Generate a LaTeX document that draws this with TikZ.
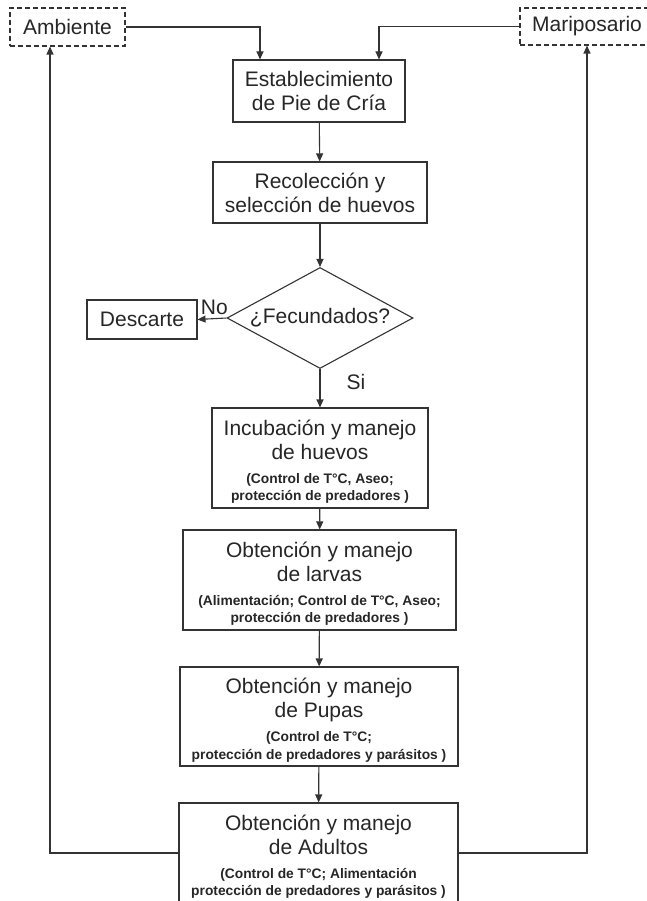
\documentclass[tikz,border=0pt]{standalone}
\usepackage{fontspec}
\setmainfont{Liberation Sans}
\usetikzlibrary{shapes.geometric,arrows.meta}
% bold detail lines under a step
\newcommand\detalle[1]{{\fontsize{13.8}{17.5}\selectfont\bfseries
  \raisebox{0pt}[\height][\dimexpr\depth-10pt\relax]{\begin{tabular}[t]{@{}c@{}}#1\end{tabular}}}}
\tikzset{
  caja/.style={draw=black!80, line width=1.1pt, fill=white, align=center, inner sep=2pt,
    text=black!85, font=\fontsize{21}{24}\selectfont},
  borde/.style={caja, dash pattern=on 5pt off 3pt},
  decision/.style={caja, shape=diamond, aspect=1.84, inner sep=0pt},
  flecha/.style={draw=black!80, line width=1.1pt, -{Triangle[length=8pt,width=7pt]}},
  etiqueta/.style={inner sep=2pt, text=black!85, font=\fontsize{21}{24}\selectfont}
}
\begin{document}
\begin{tikzpicture}[x=1pt, y=-1pt] % pixel grid, y pointing down
  \useasboundingbox (0,0) rectangle (647,901);

  % sources
  \node[borde, minimum width=115pt, minimum height=38pt] (ambiente) at (67.5,27) {Ambiente};
  \node[borde, minimum width=134pt, minimum height=37pt] (mariposario) at (587,26.5) {Mariposario};

  % main steps
  \node[caja, minimum width=172pt, minimum height=62pt] (pie) at (319,91) {Establecimiento\\de Pie de Cría};
  \node[caja, minimum width=214pt, minimum height=61pt] (recoleccion) at (320,192.5) {Recolección y\\selección de huevos};
  \node[decision, minimum width=186pt, minimum height=101pt] (fecundados) at (320,318) {¿Fecundados?};
  \node[caja, minimum width=110pt, minimum height=39pt] (descarte) at (142,319.5) {Descarte};
  \node[caja, minimum width=216pt, minimum height=100pt] (huevos) at (320,458)
    {Incubación y manejo\\de huevos\\\detalle{(Control de T°C, Aseo;\\protección de predadores )}};
  \node[caja, minimum width=273pt, minimum height=100pt] (larvas) at (319.5,580)
    {Obtención y manejo\\de larvas\\\detalle{(Alimentación; Control de T°C, Aseo;\\protección de predadores )}};
  \node[caja, minimum width=278pt, minimum height=99pt] (pupas) at (319,716.5)
    {Obtención y manejo\\de Pupas\\\detalle{(Control de T°C;\\protección de predadores y parásitos )}};
  \node[caja, minimum width=279pt, minimum height=100pt] (adultos) at (318.5,853)
    {Obtención y manejo\\de Adultos\\\detalle{(Control de T°C; Alimentación\\protección de predadores y parásitos )}};

  % flow
  \draw[flecha] (ambiente.east) -| ([xshift=-59pt]pie.north);
  \draw[flecha] (mariposario.west) -| ([xshift=60pt]pie.north);
  \draw[flecha] (pie) -- (recoleccion);
  \draw[flecha] (recoleccion) -- (fecundados);
  \draw[flecha] (fecundados.west) -- (descarte.east) node[etiqueta, pos=0.42, above, yshift=1pt] (no) {No};
  \draw[flecha] (fecundados.south) -- (huevos.north) node[etiqueta, pos=0.35, right=24pt] (si) {Si};
  \draw[flecha] (huevos) -- (larvas);
  \draw[flecha] (larvas) -- (pupas);
  \draw[flecha] (pupas) -- (adultos);

  % back to the sources
  \draw[flecha] (adultos.west) -| ([xshift=-17.5pt]ambiente.south);
  \draw[flecha] (adultos.east) -| (mariposario.south);
\end{tikzpicture}
\end{document}
